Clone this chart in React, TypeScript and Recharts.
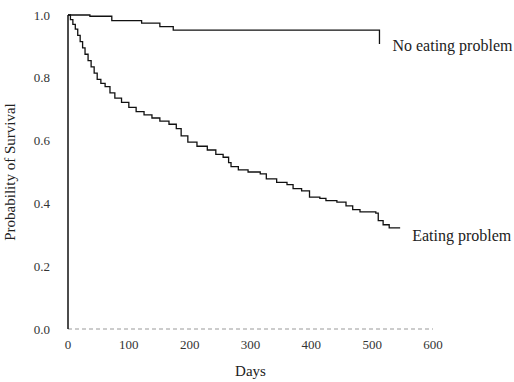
import React from "react";
import { LineChart, Line, XAxis, YAxis } from "recharts";

// Kaplan-Meier estimates (day of step, survival after step)
const eatingDays = [
  0, 4, 8, 12, 16, 20, 24, 28, 33, 38, 43, 48, 54, 61, 69, 77, 88, 100, 112,
  125, 138, 151, 166, 178, 186, 197, 212, 229, 243, 255, 264, 268, 280, 296,
  316, 326, 343, 360, 370, 384, 397, 414, 424, 442, 457, 468, 480, 506, 510,
  518, 528, 546,
];
const eatingSurvival = [
  1.0, 0.985, 0.97, 0.955, 0.935, 0.915, 0.895, 0.875, 0.855, 0.835, 0.815,
  0.795, 0.782, 0.772, 0.752, 0.735, 0.722, 0.706, 0.692, 0.682, 0.672, 0.662,
  0.652, 0.638, 0.615, 0.595, 0.582, 0.57, 0.556, 0.547, 0.53, 0.517, 0.507,
  0.5, 0.494, 0.478, 0.467, 0.46, 0.447, 0.44, 0.42, 0.416, 0.409, 0.404,
  0.392, 0.38, 0.373, 0.369, 0.345, 0.332, 0.322, 0.322,
];

const noEatingDays = [0, 36, 72, 121, 151, 173, 512];
const noEatingSurvival = [1.0, 0.996, 0.982, 0.974, 0.963, 0.952, 0.908];

const xTicks = [0, 100, 200, 300, 400, 500, 600];
const yTicks = [0, 0.2, 0.4, 0.6, 0.8, 1.0];

const eatingData = eatingDays.map((d, i) => ({ day: d, p: eatingSurvival[i] }));
const noEatingData = noEatingDays.map((d, i) => ({ day: d, p: noEatingSurvival[i] }));

const FONT = '"Liberation Serif", "Times New Roman", serif';

const endLabel = (text: string, last: number, dx: number, dy: number) => (props: any) => {
  if (props.index !== last) return null;
  return (
    <text
      x={props.x + dx}
      y={props.y + dy}
      fontFamily={FONT}
      fontSize={16}
      fill="#222"
      dominantBaseline="middle"
    >
      {text}
    </text>
  );
};

const YTitle = (props: any) => {
  const { viewBox } = props;
  const cy = viewBox.y + viewBox.height / 2;
  return (
    <text
      x={12}
      y={cy}
      transform={`rotate(-90 12 ${cy})`}
      textAnchor="middle"
      dominantBaseline="middle"
      fontFamily={FONT}
      fontSize={15}
      fill="#222"
    >
      Probability of Survival
    </text>
  );
};

export default function App() {
  return (
    <div style={{ position: "absolute", left: 0, top: 0, background: "#fff" }}>
      <LineChart
        width={514}
        height={382}
        margin={{ top: 15, right: 81, bottom: 23, left: 0 }}
      >
        <XAxis
          dataKey="day"
          type="number"
          domain={[0, 600]}
          ticks={xTicks}
          allowDataOverflow
          height={30}
          axisLine={{ stroke: "#999", strokeDasharray: "4 3" }}
          tickLine={false}
          tickSize={0}
          tickMargin={11}
          tick={{ fontFamily: FONT, fontSize: 13, fill: "#333" }}
          label={{
            value: "Days",
            position: "bottom",
            offset: 6,
            fontFamily: FONT,
            fontSize: 15,
            fill: "#222",
          }}
        />
        <YAxis
          dataKey="p"
          type="number"
          domain={[0, 1]}
          ticks={yTicks}
          width={68}
          axisLine={{ stroke: "#111", strokeWidth: 1.5 }}
          tickLine={false}
          tickSize={0}
          tickMargin={18}
          tickFormatter={(v: number) => v.toFixed(1)}
          tick={{ fontFamily: FONT, fontSize: 13, fill: "#333" }}
          label={{ content: YTitle }}
        />
        <Line
          data={noEatingData}
          dataKey="p"
          type="stepAfter"
          stroke="#111"
          strokeWidth={1.3}
          dot={false}
          activeDot={false}
          isAnimationActive={false}
          label={endLabel("No eating problem", noEatingData.length - 1, 13, 3)}
        />
        <Line
          data={eatingData}
          dataKey="p"
          type="stepAfter"
          stroke="#111"
          strokeWidth={1.3}
          dot={false}
          activeDot={false}
          isAnimationActive={false}
          label={endLabel("Eating problem", eatingData.length - 1, 12, 9)}
        />
      </LineChart>
    </div>
  );
}
